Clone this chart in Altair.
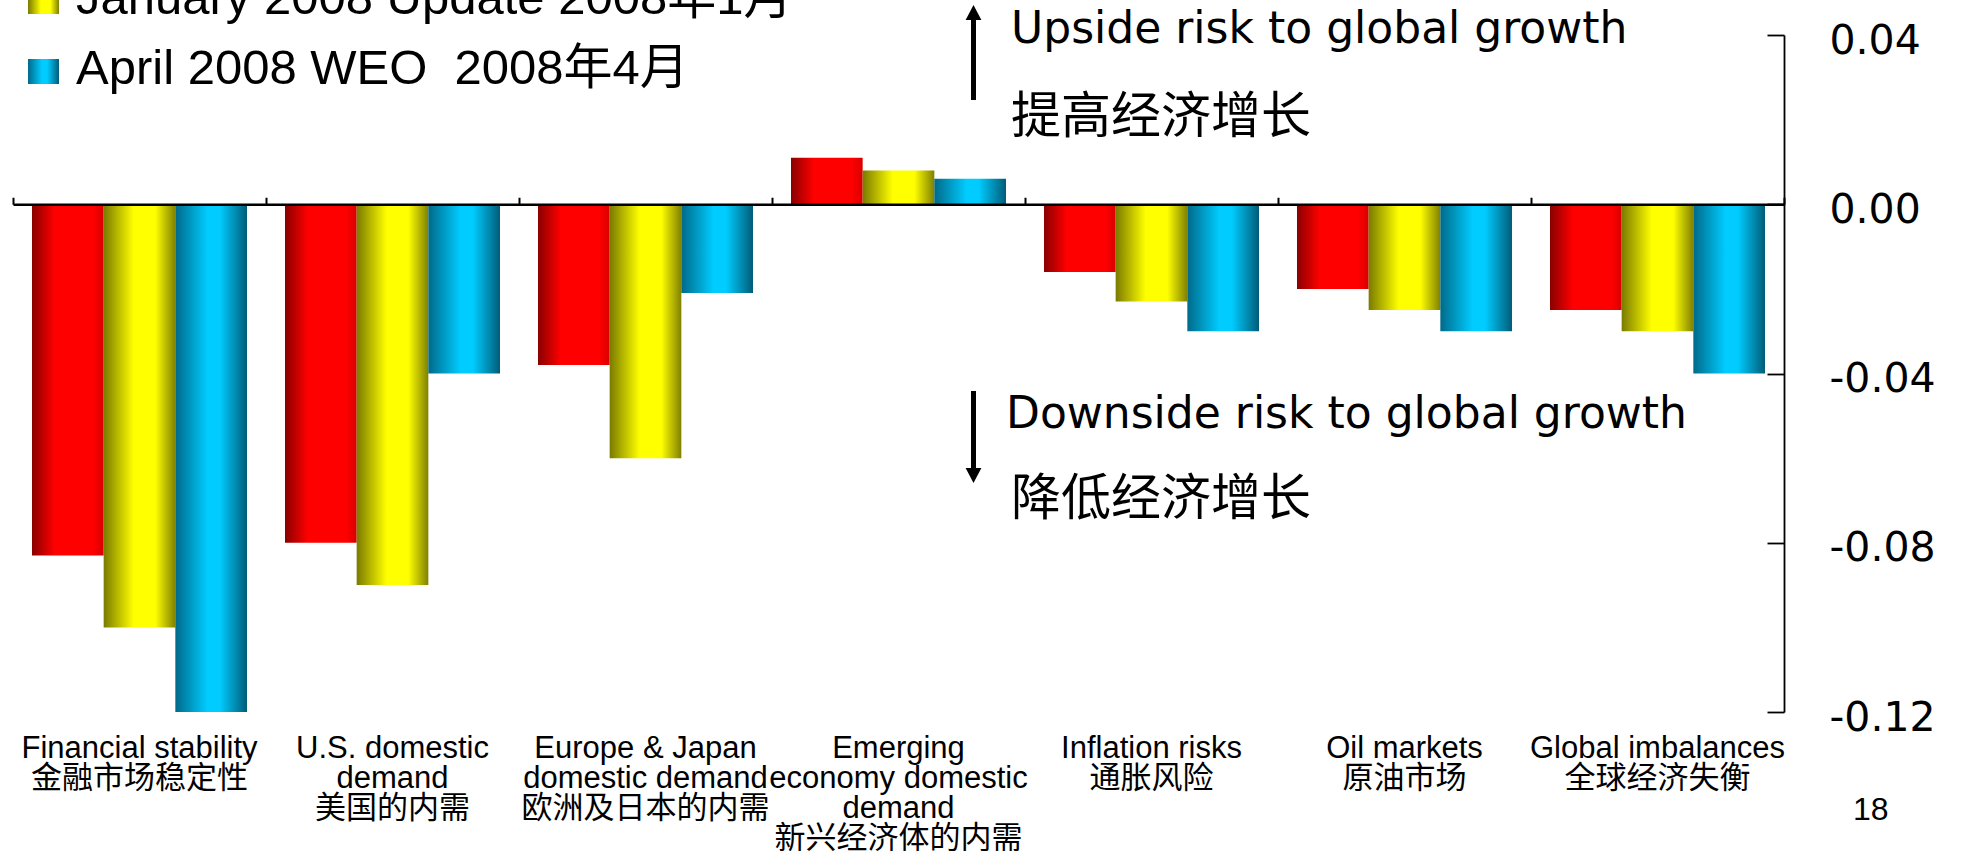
import altair as alt
import pandas as pd

# ---------------- data ----------------
categories = [
    "Financial stability|金融市场稳定性",
    "U.S. domestic|demand|美国的内需",
    "Europe & Japan|domestic demand|欧洲及日本的内需",
    "Emerging|economy domestic|demand|新兴经济体的内需",
    "Inflation risks|通胀风险",
    "Oil markets|原油市场",
    "Global imbalances|全球经济失衡",
]
series = ["October 2007 WEO", "January 2008 Update", "April 2008 WEO"]
oct_2007 = [-0.083, -0.080, -0.038, 0.011, -0.016, -0.020, -0.025]
jan_2008 = [-0.100, -0.090, -0.060, 0.008, -0.023, -0.025, -0.030]
apr_2008 = [-0.120, -0.040, -0.021, 0.006, -0.030, -0.030, -0.040]
legend_labels = ["January 2008 Update 2008年1月", "April 2008 WEO \u00a02008年4月"]
y_ticks = [0.04, 0.0, -0.04, -0.08, -0.12]
upside_en = "Upside risk to global growth"
upside_zh = "提高经济增长"
downside_en = "Downside risk to global growth"
downside_zh = "降低经济增长"
page_no = "18"

# ---------------- layout ----------------
W, H = 1771, 677
ymin, ymax = -0.12, 0.04

rows = []
for s, vals in zip(series, [oct_2007, jan_2008, apr_2008]):
    for c, v in zip(categories, vals):
        rows.append({"category": c, "series": s, "value": v})
df = pd.DataFrame(rows)


def grad(stops):
    return alt.Gradient(
        gradient="linear", x1=0, x2=1, y1=0, y2=0,
        stops=[alt.GradientStop(color=c, offset=o) for o, c in stops],
    )


red_g = grad([(0, "#8a0000"), (0.32, "#ff0000"), (0.85, "#ff0000"), (1, "#d80000")])
yel_g = grad([(0, "#7a7a00"), (0.42, "#ffff00"), (0.72, "#ffff00"), (1, "#808000")])
blu_g = grad([(0, "#006a8a"), (0.45, "#00ccff"), (0.62, "#00ccff"), (1, "#005c78")])

xscale = alt.Scale(domain=categories, paddingInner=0, paddingOuter=0)
offscale = alt.Scale(domain=series, paddingInner=0, paddingOuter=0.265)
yscale = alt.Scale(domain=[ymin, ymax], nice=False)

label_font = "Liberation Sans, Noto Sans CJK SC"
zero_offset = -H * ymax / (ymax - ymin)

base = alt.Chart(df)

x_label_axis = alt.Axis(
    orient="bottom", domain=False, ticks=False, grid=False,
    labelExpr="split(datum.label, '|')", labelAngle=0, labelBaseline="top",
    labelAlign="center", labelFont=label_font, labelFontSize=31,
    labelLineHeight=30, labelPadding=21, labelLimit=600, labelOverlap=False,
    labelColor="black",
)
y_label_axis = alt.Axis(
    orient="right", values=y_ticks, domain=False, ticks=False, grid=False,
    labelExpr="(datum.value < 0 ? '-' : '') + format(abs(datum.value), '.2f')",
    labelFont="DejaVu Sans", labelFontSize=41, labelPadding=45,
    labelColor="black", labelOffset=6, labelAlign="left", labelBaseline="middle",
    labelFlush=False, labelOverlap=False,
)
x_zero_axis = alt.Axis(
    orient="top", offset=zero_offset, labels=False, domain=True,
    domainColor="black", domainWidth=2.5, ticks=True, tickBand="extent",
    tickSize=7, tickWidth=2, tickColor="black", grid=False, zindex=1,
)
y_line_axis = alt.Axis(
    orient="left", offset=-W, labels=False, values=y_ticks, domain=True,
    domainColor="black", domainWidth=1.8, ticks=True, tickSize=17,
    tickWidth=1.8, tickColor="black", grid=False, zindex=1,
)


def bar_layer(s, fill, xaxis, yaxis):
    return base.transform_filter(alt.datum.series == s).mark_bar(color=fill).encode(
        x=alt.X("category:N", scale=xscale, sort=categories, title=None, axis=xaxis),
        xOffset=alt.XOffset("series:N", scale=offscale, sort=series),
        y=alt.Y("value:Q", scale=yscale, title=None, axis=yaxis),
        y2=alt.datum(0),
    )


red = bar_layer(series[0], red_g, x_label_axis, y_label_axis)
yellow = bar_layer(series[1], yel_g, x_zero_axis, y_line_axis)
blue = bar_layer(series[2], blu_g, None, None)

one = pd.DataFrame({"a": [0]})


def text_layer(txt, x, y, size, font, align="left", baseline="alphabetic"):
    return alt.Chart(pd.DataFrame({"t": [txt]})).mark_text(
        align=align, baseline=baseline, font=font, fontSize=size, color="black"
    ).encode(x=alt.value(x), y=alt.value(y), text="t:N")


# arrows
up_shaft = alt.Chart(one).mark_rule(strokeWidth=5, color="black").encode(
    x=alt.value(960.5), y=alt.value(-17), y2=alt.value(65))
up_head = alt.Chart(one).mark_point(
    shape="M0,-1L1.05,1L-1.05,1Z", filled=True, color="black", opacity=1, size=225
).encode(x=alt.value(960.5), y=alt.value(-22.5))
dn_shaft = alt.Chart(one).mark_rule(strokeWidth=5, color="black").encode(
    x=alt.value(960.5), y=alt.value(356), y2=alt.value(436))
dn_head = alt.Chart(one).mark_point(
    shape="M0,1L1.05,-1L-1.05,-1Z", filled=True, color="black", opacity=1, size=225
).encode(x=alt.value(960.5), y=alt.value(440.5))

ann = [
    text_layer(upside_en, 998, 8, 44, "DejaVu Sans"),
    text_layer(upside_zh, 998, 98, 50, "Noto Sans CJK SC"),
    text_layer(downside_en, 993, 393, 44, "DejaVu Sans"),
    text_layer(downside_zh, 998, 480, 50, "Noto Sans CJK SC"),
    text_layer(page_no, 1840, 785, 32, "Liberation Sans"),
]

# legend (visible part)
leg_jan_box = alt.Chart(one).mark_rect(color=yel_g).encode(
    x=alt.value(15), x2=alt.value(46), y=alt.value(-46), y2=alt.value(-21))
leg_apr_box = alt.Chart(one).mark_rect(color=blu_g).encode(
    x=alt.value(15), x2=alt.value(46), y=alt.value(24), y2=alt.value(49))
leg_jan_txt = text_layer(legend_labels[0], 63, -21, 49, label_font)
leg_apr_txt = text_layer(legend_labels[1], 63, 49, 49, label_font)

chart = alt.layer(
    red, yellow, blue,
    up_shaft, up_head, dn_shaft, dn_head,
    *ann,
    leg_jan_box, leg_apr_box, leg_jan_txt, leg_apr_txt,
).resolve_axis(x="independent", y="independent").properties(
    width=W, height=H,
    autosize=alt.AutoSizeParams(type="none"),
    padding={"left": 13, "top": 35, "right": 182, "bottom": 139},
    background="white",
).configure_view(strokeWidth=0)

chart.save("out.html", embed_options={"renderer": "svg", "actions": False})
